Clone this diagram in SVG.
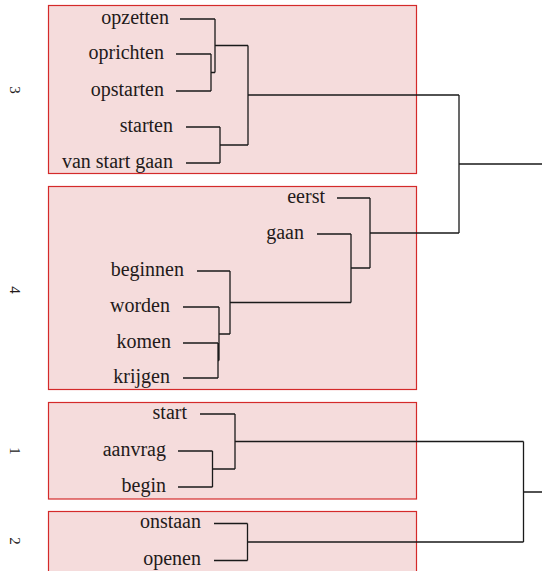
<svg xmlns="http://www.w3.org/2000/svg" width="542" height="571" viewBox="0 0 542 571">
<style>
.box{fill:#f5dcdc;stroke:#d42a2a;stroke-width:1.2}
.lbl{font-family:"Liberation Serif","Times New Roman",serif;font-size:20px;fill:#231a1a;text-anchor:end}
.cl{font-family:"Liberation Serif","Times New Roman",serif;font-size:15px;fill:#231a1a;text-anchor:middle}
.ln{fill:none;stroke:#1a1a1a;stroke-width:1.3}
</style>
<rect width="542" height="571" fill="#ffffff"/>
<g id="cluster3">
<rect class="box" x="48.5" y="5.5" width="368" height="168"/>
<text class="cl" transform="translate(15,90) rotate(90)" dy="0.35em">3</text>
</g>
<g id="cluster4">
<rect class="box" x="48.5" y="186.5" width="368" height="203"/>
<text class="cl" transform="translate(15,290) rotate(90)" dy="0.35em">4</text>
</g>
<g id="cluster1">
<rect class="box" x="48.5" y="402.5" width="368" height="96.5"/>
<text class="cl" transform="translate(15,451) rotate(90)" dy="0.35em">1</text>
</g>
<g id="cluster2">
<rect class="box" x="48.5" y="511.5" width="368" height="70"/>
<text class="cl" transform="translate(15,541) rotate(90)" dy="0.35em">2</text>
</g>
<g id="n-opzetten"><text class="lbl" x="169" y="23.5">opzetten</text></g>
<g id="n-oprichten"><text class="lbl" x="164" y="58.5">oprichten</text></g>
<g id="n-opstarten"><text class="lbl" x="164" y="95.5">opstarten</text></g>
<g id="n-starten"><text class="lbl" x="173" y="131.5">starten</text></g>
<g id="n-vanstartgaan"><text class="lbl" x="173" y="167.5">van start gaan</text></g>
<g id="n-eerst"><text class="lbl" x="325" y="202.5">eerst</text></g>
<g id="n-gaan"><text class="lbl" x="304" y="238.5">gaan</text></g>
<g id="n-beginnen"><text class="lbl" x="184" y="275.5">beginnen</text></g>
<g id="n-worden"><text class="lbl" x="170" y="311.5">worden</text></g>
<g id="n-komen"><text class="lbl" x="171" y="347.5">komen</text></g>
<g id="n-krijgen"><text class="lbl" x="170" y="382.5">krijgen</text></g>
<g id="n-start"><text class="lbl" x="187" y="418.5">start</text></g>
<g id="n-aanvrag"><text class="lbl" x="166" y="455.5">aanvrag</text></g>
<g id="n-begin"><text class="lbl" x="166" y="491.5">begin</text></g>
<g id="n-onstaan"><text class="lbl" x="201" y="528">onstaan</text></g>
<g id="n-openen"><text class="lbl" x="201" y="565">openen</text></g>
<g id="connectors">
<path class="ln" d="M180,19H215M176,54H211M176,91H211M211,54V91M211,72.5H215M215,19V72.5M215,45.5H248"/>
<path class="ln" d="M186,127H220M186,163H220M220,127V163M220,145H248M248,45.5V145M248,95H459"/>
<path class="ln" d="M337,198H370M317,234H351M197,271H230M183,307H219M183,343H218M183,378H218"/>
<path class="ln" d="M218,343V378M218,360.5H219M219,307V360.5M219,334H230M230,271V334M230,302.5H351M351,234V302.5M351,268H370M370,198V268M370,233H459"/>
<path class="ln" d="M459,95V233M459,164H542"/>
<path class="ln" d="M200,414H235M178,451H212.5M178,487H212.5M212.5,451V487M212.5,469H235M235,414V469M235,441.5H523.5"/>
<path class="ln" d="M214,523.5H247.5M214,560.5H247.5M247.5,523.5V560.5M247.5,542H523.5M523.5,441.5V542M523.5,492H542"/>
</g>
</svg>
